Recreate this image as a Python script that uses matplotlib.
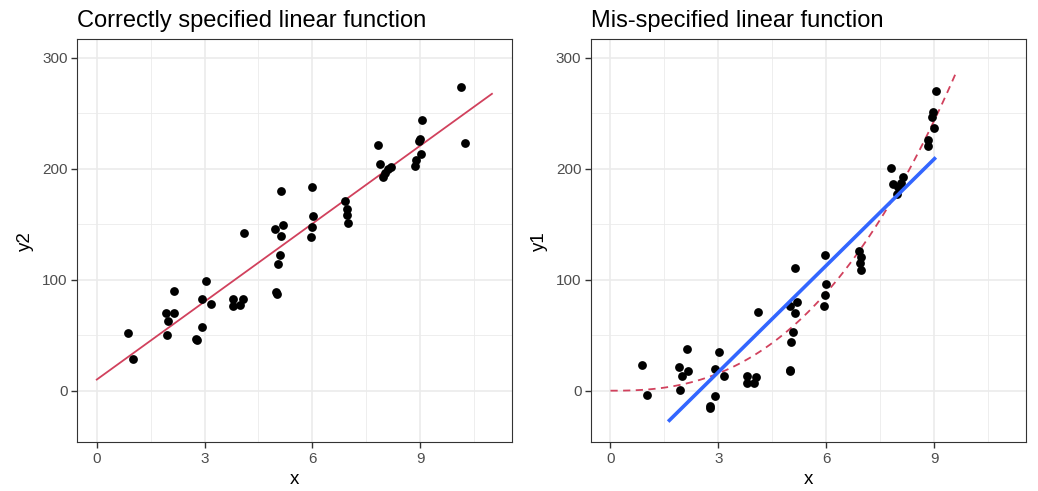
import numpy as np
import matplotlib
matplotlib.use("Agg")
import matplotlib.pyplot as plt
from matplotlib.ticker import MultipleLocator

plt.rcParams["font.family"] = ["Liberation Sans", "DejaVu Sans"]

# left panel: correctly specified
x_left = [0.88, 1.00, 1.93, 1.99, 1.95, 2.14, 2.16, 2.76, 2.78, 2.92, 2.92, 3.03,
          3.18, 3.79, 3.79, 3.99, 4.06, 4.10, 4.97, 4.99, 5.02, 5.04, 5.09, 5.12,
          5.19, 5.12, 5.98, 6.01, 5.98, 5.96, 6.91, 6.97, 6.96, 7.00, 7.82, 7.88,
          7.98, 8.02, 8.12, 8.18, 8.86, 8.88, 9.02, 9.00, 8.96, 9.05, 10.14, 10.25]
y2 = [51.8, 28.2, 70.4, 62.9, 50.3, 89.9, 69.8, 46.7, 45.8, 82.4, 57.8, 98.9,
      77.9, 82.7, 76.7, 77.3, 83.0, 141.7, 145.6, 89.3, 87.2, 113.9, 122.3, 139.6,
      149.5, 180.1, 183.7, 157.6, 147.7, 138.4, 171.1, 163.6, 158.2, 151.3, 221.5, 204.4,
      192.7, 195.7, 199.3, 201.4, 202.6, 207.7, 213.1, 226.5, 225.0, 243.6, 273.3, 222.7]
true_intercept = 10.0
true_slope = 23.4
line_range = (0, 11)

# right panel: mis-specified
x_right = [0.88, 1.01, 1.91, 1.98, 1.94, 2.13, 2.16, 2.76, 2.78, 2.91, 2.91, 3.02,
           3.16, 3.80, 3.79, 3.98, 4.05, 4.10, 4.98, 4.98, 5.00, 5.02, 5.09, 5.12,
           5.18, 5.12, 5.97, 5.99, 5.97, 5.95, 6.90, 6.97, 6.95, 6.98, 7.80, 7.87,
           7.98, 8.01, 8.08, 8.15, 8.83, 8.84, 8.99, 8.94, 8.98, 9.05]
y1 = [23.1, -3.6, 21.3, 12.9, 0.9, 37.5, 17.4, -14.1, -15.6, 19.5, -5.1, 34.5,
      12.9, 12.9, 6.9, 6.9, 12.3, 70.7, 76.7, 18.9, 17.4, 43.8, 52.7, 69.8,
      80.3, 110.6, 122.3, 96.5, 86.3, 76.7, 126.2, 120.2, 114.8, 108.8, 200.8, 186.1,
      177.1, 183.7, 186.7, 192.1, 220.3, 225.7, 236.7, 246.6, 250.8, 270.0]
curve_power = 2.5
curve_range = (0, 9.62)
fit_intercept = -79.1
fit_slope = 31.96

y_limits = (-30, 300)

RED = "#D1415D"
BLUE = "#3366FF"
GRID = "#EBEBEB"
DARK = "#333333"

fig = plt.figure(figsize=(10.38, 4.91), dpi=100)
H = 491
W = 1038
ax1 = fig.add_axes([77 / W, (H - 442.3) / H, 434.7 / W, 403 / H])
ax2 = fig.add_axes([590.7 / W, (H - 442.3) / H, 435 / W, 403 / H])


def style(ax, title, ylabel):
    span = y_limits[1] - y_limits[0]
    ax.set_xlim(-0.55, 11.55)
    ax.set_ylim(y_limits[0] - 0.05 * span, y_limits[1] + 0.05 * span)
    ax.xaxis.set_major_locator(MultipleLocator(3))
    ax.xaxis.set_minor_locator(MultipleLocator(1.5))
    ax.yaxis.set_major_locator(MultipleLocator(100))
    ax.yaxis.set_minor_locator(MultipleLocator(50))
    ax.set_xticks(np.arange(0, 10, 3))
    ax.set_yticks(np.arange(0, 301, 100))
    ax.grid(which="major", color=GRID, lw=1.2, zorder=0)
    ax.grid(which="minor", color=GRID, lw=0.6, zorder=0)
    ax.set_axisbelow(True)
    for s in ax.spines.values():
        s.set_color(DARK)
        s.set_linewidth(0.8)
    ax.tick_params(which="major", length=4.2, width=1.0, color=DARK,
                   labelsize=11, labelcolor="#4D4D4D", pad=2.5)
    ax.tick_params(which="minor", length=0)
    ax.set_title(title, loc="left", fontsize=17, pad=9, color="black")
    ax.set_xlabel("x", fontsize=13.5, labelpad=4)
    ax.set_ylabel(ylabel, fontsize=13.5, labelpad=6)


# left
xl = np.linspace(*line_range, 101)
ax1.plot(xl, true_intercept + true_slope * xl, color=RED, lw=1.3, zorder=2)
ax1.scatter(x_left, y2, s=40, color="black", zorder=3, linewidths=0)
style(ax1, "Correctly specified linear function", "y2")

# right
xc = np.linspace(*curve_range, 101)
ax2.plot(xc, xc ** curve_power, color=RED, lw=1.3, dashes=(4, 3), zorder=2)
ax2.scatter(x_right, y1, s=40, color="black", zorder=3, linewidths=0)
xf = np.linspace(min(x_right), max(x_right), 80)
yf = fit_intercept + fit_slope * xf
keep = yf >= y_limits[0]
ax2.plot(xf[keep], yf[keep], color=BLUE, lw=2.6, zorder=4, solid_capstyle="butt")
style(ax2, "Mis-specified linear function", "y1")

fig.savefig("out.png", dpi=100)
